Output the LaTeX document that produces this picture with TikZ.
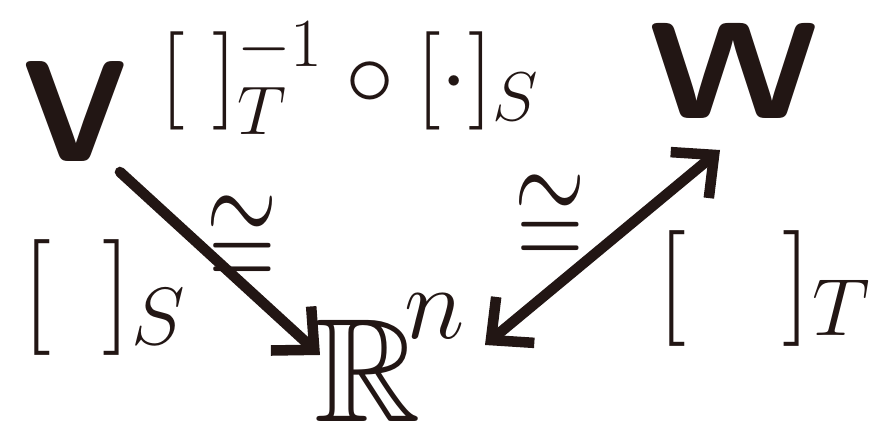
\RequirePackage{fix-cm}
\documentclass[tikz,border=0pt]{standalone}
\usepackage{amsmath}
\usepackage{amssymb}
\usetikzlibrary{arrows.meta,calc}
\definecolor{inkBrown}{HTML}{221614}

\begin{document}
\begin{tikzpicture}[x=0.02cm,y=-0.02cm,
	sym/.style={inner sep=0pt,text=inkBrown},
	barbTip/.tip={Straight Barb[length=18pt,width=34pt,line width=6pt]},
	arr/.style={draw=inkBrown,line width=6pt,line cap=round,line join=round}]
	\useasboundingbox(0,0)rectangle(873,431);
	\node[sym,font=\fontsize{82}{82}\selectfont\sffamily\bfseries](V)at(75,112){V};
	\node[sym,font=\fontsize{78}{78}\selectfont\sffamily\bfseries](W)at(734,71){\scalebox{1.2}[1]{W}};
	\node[sym,font=\fontsize{84}{84}\selectfont,anchor=base](Rn)at(390,422)
	{$\mathbb{R}^{\!\raisebox{17pt}{$\scriptstyle n$}}$};
	\node[sym,font=\fontsize{56}{56}\selectfont,anchor=base](comp)at(350,106)
	{$[\;]_T^{-1}\circ[\cdot]_S$};
	\node[sym,font=\fontsize{66}{66}\selectfont,anchor=base](coordS)at(104,327){$[\;\,]_S$};
	\node[sym,font=\fontsize{66}{66}\selectfont,anchor=base](coordT)at(764,318){$[\;\;\;]_T$};
	\node[sym,font=\fontsize{52}{52}\selectfont](isoS)at(242,243){\scalebox{1}[1.45]{$\cong$}};
	\node[sym,font=\fontsize{52}{52}\selectfont](isoT)at(550,222){\scalebox{1}[1.45]{$\cong$}};
	\draw[arr,-barbTip]($(V)+(45,60)$)--($(Rn.base)+(-70,-67)$);
	\draw[arr,barbTip-barbTip]($(Rn.base)+(95,-77)$)--($(W)+(-14,79)$);
\end{tikzpicture}
\end{document}
